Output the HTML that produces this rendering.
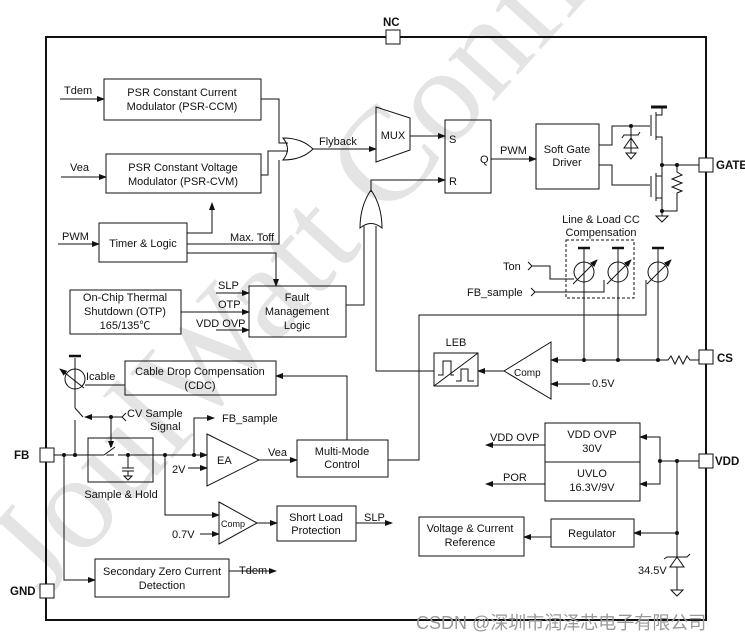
<!DOCTYPE html>
<html><head><meta charset="utf-8"><style>
html,body{margin:0;padding:0;background:#fff;width:745px;height:642px;overflow:hidden}
svg{display:block}
text{font-family:"Liberation Sans","Noto Sans CJK SC",sans-serif;font-size:11px;fill:#111}
.b{font-weight:bold;font-size:11.5px}
</style></head><body>
<svg width="745" height="642" viewBox="0 0 745 642" xmlns="http://www.w3.org/2000/svg">
<defs>
<marker id="a" markerWidth="8" markerHeight="6" refX="7" refY="3" orient="auto" markerUnits="userSpaceOnUse"><path d="M0,0 L8,3 L0,6 z" fill="#111"/></marker>
</defs>
<!-- watermark -->
<text x="0" y="0" transform="translate(45,600) rotate(-48)" style="font-size:135px;fill:#e4e4e4;font-family:'Liberation Serif',serif">JoulWatt Confi</text>

<g fill="none" stroke="#111" stroke-width="1">
<rect x="46" y="37" width="660" height="583" stroke-width="2"/>
</g>
<g fill="#fff" stroke="#111" stroke-width="1">
<rect x="386" y="30" width="14" height="14"/>
<rect x="699" y="158" width="14" height="14"/>
<rect x="699" y="350" width="14" height="14"/>
<rect x="699" y="454" width="14" height="14"/>
<rect x="40" y="448" width="14" height="14"/>
<rect x="40" y="584" width="14" height="14"/>
</g>
<text x="383" y="26" class="b">NC</text>
<text x="716" y="169" class="b">GATE</text>
<text x="717" y="362" class="b">CS</text>
<text x="715" y="465" class="b">VDD</text>
<text x="14" y="459" class="b">FB</text>
<text x="10" y="595" class="b">GND</text>

<g fill="none" stroke="#111" stroke-width="1">
<rect x="104" y="79" width="157" height="41"/>
<rect x="106" y="154" width="155" height="39"/>
<rect x="99" y="223" width="88" height="39"/>
<rect x="249" y="286" width="97" height="51"/>
<rect x="70" y="290" width="111" height="44"/>
<rect x="445" y="120" width="46" height="73"/>
<rect x="536" y="124" width="63" height="65"/>
<rect x="125" y="361" width="151" height="34"/>
<rect x="88" y="438" width="65" height="44"/>
<rect x="297" y="440" width="91" height="37"/>
<rect x="277" y="506" width="79" height="35"/>
<rect x="95" y="559" width="134" height="38"/>
<rect x="434" y="353" width="44" height="33"/>
<rect x="545" y="423" width="95" height="39"/>
<rect x="545" y="462" width="95" height="39"/>
<rect x="551" y="519" width="83" height="28"/>
<rect x="419" y="517" width="105" height="39"/>
<rect x="566" y="240" width="68" height="58" stroke-dasharray="3,2"/>
<path d="M376,107 L410,118 L410,150 L376,162 Z"/>
<path d="M283,138 Q292,149 283,160 Q302,160 313,149 Q302,138 283,138 Z"/>
<path d="M360,228 Q371,219 382,228 Q382,206 371,190 Q360,206 360,228 Z"/>
<path d="M207,434 L259,460 L207,486 Z"/>
<path d="M219,502 L257,523 L219,544 Z"/>
<path d="M551,342 L551,399 L504,371 Z"/>
<line x1="434" y1="386" x2="478" y2="353"/>
<path d="M438,375 h5 v-14 h8 v14 h3"/>
<path d="M456,381 h5 v-12 h7 v12 h6"/>

<line x1="60" y1="99" x2="104" y2="99" marker-end="url(#a)"/>
<line x1="61" y1="177" x2="106" y2="177" marker-end="url(#a)"/>
<line x1="58" y1="244" x2="99" y2="244" marker-end="url(#a)"/>
<path d="M261,99 H279 V143 H288"/>
<path d="M261,175 H268 V151 H288"/>
<path d="M187,233 H212 V203" marker-end="url(#a)"/>
<path d="M187,244 H279 V160"/>
<path d="M187,253 H276 V286" marker-end="url(#a)"/>
<line x1="216" y1="293" x2="249" y2="293" marker-end="url(#a)"/>
<line x1="181" y1="312" x2="249" y2="312" marker-end="url(#a)"/>
<line x1="216" y1="330" x2="249" y2="330" marker-end="url(#a)"/>
<path d="M346,305 H364 V226"/>
<line x1="313" y1="149" x2="376" y2="149" marker-end="url(#a)"/>
<line x1="410" y1="136" x2="445" y2="136" marker-end="url(#a)"/>
<path d="M371,192 V180 H445" marker-end="url(#a)"/>
<line x1="491" y1="159" x2="536" y2="159" marker-end="url(#a)"/>
<path d="M434,371 H376 V226"/>
<path d="M599,145 H612 V126 H650"/>
<path d="M599,165 H612 V185 H650"/>
<path d="M631,126 V148"/>
<path d="M624,148 h14 l-7,-10 z"/>
<path d="M622,138 l2,-3 h14 l2,-3"/>
<line x1="631" y1="148" x2="631" y2="153"/>
<path d="M626,153 h10 l-5,6 z"/>
<line x1="651" y1="115" x2="651" y2="136"/>
<line x1="656" y1="112" x2="656" y2="140"/>
<path d="M656,115 H662 V107"/>
<path d="M656,137 H662 V211"/>
<line x1="651" y1="107" x2="667" y2="107" stroke-width="3"/>
<line x1="651" y1="176" x2="651" y2="197"/>
<line x1="656" y1="173" x2="656" y2="201"/>
<path d="M656,176 H662"/>
<path d="M656,198 H662"/>
<path d="M662,165 H699"/>
<path d="M677,165 V172 l5,3 -10,4 10,4 -10,4 10,4 -5,2 V211 H662"/>
<path d="M662,211 V216"/>
<path d="M656,216 h12 l-6,6 z"/>
<circle cx="584" cy="272" r="10"/>
<circle cx="618" cy="272" r="10"/>
<circle cx="658" cy="272" r="10"/>
<path d="M573,284 L597,260" marker-end="url(#a)"/><path d="M607,284 L631,260" marker-end="url(#a)"/><path d="M647,284 L671,260" marker-end="url(#a)"/>
<line x1="584" y1="249" x2="584" y2="360"/>
<line x1="618" y1="249" x2="618" y2="360"/>
<line x1="658" y1="249" x2="658" y2="360"/>
<g stroke-width="2.5"><line x1="578" y1="248" x2="590" y2="248"/><line x1="612" y1="248" x2="624" y2="248"/><line x1="652" y1="248" x2="664" y2="248"/></g>
<path d="M528,262 l4,4 -4,4"/>
<path d="M532,266 H550 V279 H574"/>
<path d="M531,288 l4,4 -4,4"/>
<path d="M535,292 H604 V280"/>
<path d="M388,460 H419 V315 H646 V280"/>
<path d="M699,360 H690 l-3,-4 -4,8 -4,-8 -4,8 -4,-8 -3,4 H551" marker-end="url(#a)"/>
<line x1="590" y1="384" x2="551" y2="384" marker-end="url(#a)"/>
<line x1="504" y1="371" x2="478" y2="371" marker-end="url(#a)"/>
<path d="M699,461 H660"/>
<path d="M660,461 V437 H640" marker-end="url(#a)"/>
<path d="M660,461 V484 H640" marker-end="url(#a)"/>
<line x1="545" y1="445" x2="486" y2="445" marker-end="url(#a)"/>
<line x1="545" y1="484" x2="486" y2="484" marker-end="url(#a)"/>
<line x1="677" y1="461" x2="677" y2="590"/>
<line x1="677" y1="533" x2="634" y2="533" marker-end="url(#a)"/>
<line x1="551" y1="537" x2="524" y2="537" marker-end="url(#a)"/>
<path d="M670,567 h14 l-7,-10 z" fill="#fff"/>
<path d="M664,559 l3,-2 h20 l3,-3"/>
<path d="M671,590 h12 l-6,6 z"/>
<line x1="54" y1="455" x2="207" y2="455" marker-end="url(#a)"/>
<line x1="188" y1="468" x2="207" y2="468" marker-end="url(#a)"/>
<line x1="259" y1="460" x2="297" y2="460" marker-end="url(#a)"/>
<path d="M347,440 V376 H276" marker-end="url(#a)"/>
<circle cx="75" cy="379" r="10"/>
<line x1="75" y1="358" x2="75" y2="369"/>
<line x1="69" y1="356" x2="81" y2="356" stroke-width="2.5"/>
<path d="M84,388 L60,369" marker-end="url(#a)"/>
<line x1="75" y1="369" x2="75" y2="389"/>
<path d="M85,385 H125"/>
<line x1="75" y1="389" x2="75" y2="408"/>
<line x1="75" y1="408" x2="83" y2="417"/>
<line x1="75" y1="420" x2="75" y2="455"/>
<path d="M126,413 l-4,4 4,4"/>
<line x1="122" y1="417" x2="85" y2="417" marker-end="url(#a)"/>
<path d="M111,417 V448" marker-end="url(#a)"/>
<line x1="104" y1="455" x2="114" y2="447" stroke="#fff" stroke-width="3"/>
<line x1="104" y1="455" x2="115" y2="447"/>
<line x1="114" y1="455" x2="118" y2="455" stroke="#fff" stroke-width="3"/>
<line x1="128" y1="455" x2="128" y2="468"/>
<line x1="122" y1="468" x2="134" y2="468"/><line x1="122" y1="471" x2="134" y2="471"/>
<line x1="128" y1="471" x2="128" y2="476"/>
<path d="M124,476 h8 l-4,4 z"/>
<path d="M194,455 V418 H214" marker-end="url(#a)"/>
<path d="M165,455 V515 H219" marker-end="url(#a)"/>
<line x1="200" y1="534" x2="219" y2="534" marker-end="url(#a)"/>
<line x1="257" y1="523" x2="277" y2="523" marker-end="url(#a)"/>
<line x1="356" y1="523" x2="392" y2="523" marker-end="url(#a)"/>
<path d="M64,455 V580 H95" marker-end="url(#a)"/>
<line x1="229" y1="571" x2="276" y2="571" marker-end="url(#a)"/>
</g>
<g fill="#111">
<circle cx="64" cy="455" r="2"/><circle cx="75" cy="455" r="2"/><circle cx="111" cy="417" r="2"/>
<circle cx="128" cy="455" r="2"/><circle cx="165" cy="455" r="2"/><circle cx="194" cy="455" r="2"/>
<circle cx="584" cy="360" r="2"/><circle cx="618" cy="360" r="2"/><circle cx="658" cy="360" r="2"/>
<circle cx="660" cy="461" r="2"/><circle cx="677" cy="461" r="2"/><circle cx="677" cy="533" r="2"/>
<circle cx="662" cy="165" r="2"/><circle cx="677" cy="165" r="2"/><circle cx="662" cy="211" r="2"/><circle cx="631" cy="126" r="2"/>
</g>

<g text-anchor="middle">
<text x="182" y="96">PSR Constant Current</text>
<text x="182" y="110">Modulator (PSR-CCM)</text>
<text x="183" y="171">PSR Constant Voltage</text>
<text x="183" y="185">Modulator (PSR-CVM)</text>
<text x="143" y="247">Timer &amp; Logic</text>
<text x="297" y="301">Fault</text>
<text x="297" y="315">Management</text>
<text x="297" y="329">Logic</text>
<text x="125" y="301">On-Chip Thermal</text>
<text x="125" y="315">Shutdown (OTP)</text>
<text x="125" y="329">165/135℃</text>
<text x="393" y="139">MUX</text>
<text x="567" y="153">Soft Gate</text>
<text x="567" y="166">Driver</text>
<text x="601" y="223">Line &amp; Load CC</text>
<text x="601" y="236">Compensation</text>
<text x="200" y="375">Cable Drop Compensation</text>
<text x="200" y="389">(CDC)</text>
<text x="342" y="455">Multi-Mode</text>
<text x="342" y="468">Control</text>
<text x="316" y="521">Short Load</text>
<text x="316" y="534">Protection</text>
<text x="162" y="575">Secondary Zero Current</text>
<text x="162" y="589">Detection</text>
<text x="592" y="438">VDD OVP</text>
<text x="592" y="452">30V</text>
<text x="592" y="477">UVLO</text>
<text x="592" y="491">16.3V/9V</text>
<text x="592" y="537">Regulator</text>
<text x="470" y="532">Voltage &amp; Current</text>
<text x="470" y="546">Reference</text>
<text x="121" y="498">Sample &amp; Hold</text>
<text x="456" y="346">LEB</text>
</g>
<text x="64" y="94">Tdem</text>
<text x="70" y="171">Vea</text>
<text x="62" y="240">PWM</text>
<text x="230" y="241">Max. Toff</text>
<text x="218" y="289">SLP</text>
<text x="218" y="308">OTP</text>
<text x="196" y="327">VDD OVP</text>
<text x="319" y="145">Flyback</text>
<text x="449" y="143">S</text>
<text x="449" y="185">R</text>
<text x="480" y="163">Q</text>
<text x="500" y="154">PWM</text>
<text x="503" y="270">Ton</text>
<text x="467" y="296">FB_sample</text>
<text x="514" y="376" style="font-size:10px">Comp</text>
<text x="592" y="387">0.5V</text>
<text x="490" y="441">VDD OVP</text>
<text x="503" y="481">POR</text>
<text x="638" y="574">34.5V</text>
<text x="86" y="380">Icable</text>
<text x="127" y="417">CV Sample</text>
<text x="150" y="430">Signal</text>
<text x="222" y="422">FB_sample</text>
<text x="217" y="464">EA</text>
<text x="172" y="473">2V</text>
<text x="268" y="456">Vea</text>
<text x="221" y="527" style="font-size:9px">Comp</text>
<text x="172" y="538">0.7V</text>
<text x="364" y="521">SLP</text>
<text x="239" y="574">Tdem</text>
<text x="416" y="629" style="font-size:18px;fill:#999">CSDN @深圳市润泽芯电子有限公司</text>
</svg>
</body></html>
